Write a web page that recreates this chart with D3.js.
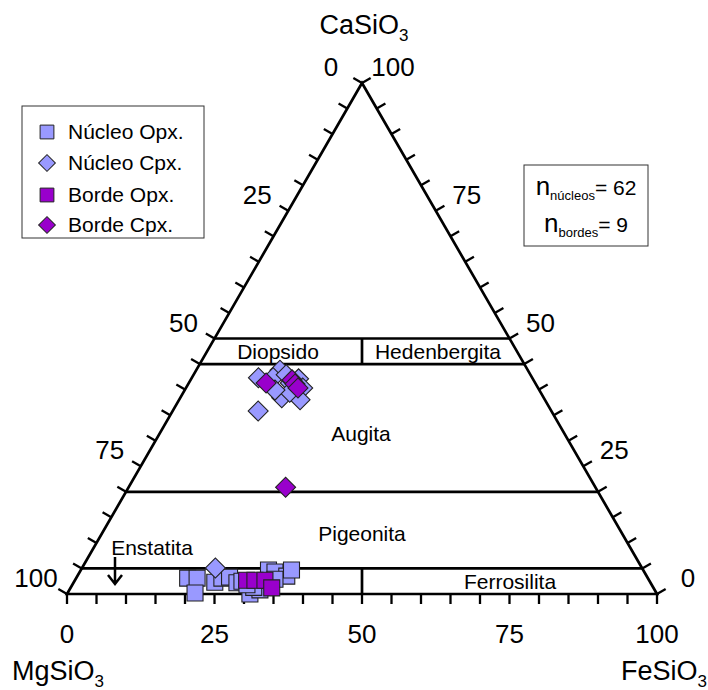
<!DOCTYPE html>
<html>
<head>
<meta charset="utf-8">
<script src="https://cdn.jsdelivr.net/npm/d3@7"></script>
<style>
  body { margin: 0; background: #fff; }
  text { font-family: "Liberation Sans", Arial, sans-serif; fill: #000; }
</style>
</head>
<body>
<script>
// composition [Wo (CaSiO3), Fs (FeSiO3)] in %, En = 100 - Wo - Fs
const nucleoOpx = [
    [3.1, 18.9], [3.1, 20.5], [0.2, 21.6], [2.3, 23.9], [3.1, 24.7],
    [3.3, 25.9], [2.2, 27.7], [2.5, 28.4], [0.0, 31.0], [0.8, 32.3],
    [1.3, 31.0], [4.7, 31.8], [4.3, 33.1], [3.5, 35.5], [4.7, 35.7],
    [2.9, 33.8], [1.8, 29.6]
];
const nucleoCpx = [
    [5.1, 22.6],
    [42.3, 11.3], [43.8, 14.2], [42.3, 13.8], [41.3, 17.2], [42.1, 18.2],
    [40.3, 19.8], [38.4, 17.2], [38.0, 20.5], [39.5, 18.0], [35.8, 14.5],
    [39.9, 15.3], [42.9, 15.7]
];
const bordeOpx = [[2.7, 29.1], [2.7, 30.5], [2.7, 32.2], [1.2, 34.1]];
const bordeCpx = [[41.3, 13.1], [41.9, 17.2], [41.1, 18.1], [40.3, 19.0], [20.9, 26.6]];

const axisTicks = [0, 25, 50, 75, 100];
const nNucleos = 62;
const nBordes = 9;

const colorNucleo = "#9999ff";
const colorBorde = "#9900cc";

const width = 708, height = 690;
const svg = d3.select("body").append("svg")
    .attr("width", width)
    .attr("height", height);

// ternary scales: x from Fs + Wo/2, y from Wo
const x = d3.scaleLinear().domain([0, 100]).range([67, 657]);
const y = d3.scaleLinear().domain([0, 100]).range([594, 83]);
function px(wo, fs) { return x(fs + wo / 2); }
function py(wo) { return y(wo); }

const line = d3.line();

// field boundaries
const fields = [
    [[50, 0], [50, 50]],
    [[45, 0], [45, 55]],
    [[20, 0], [20, 80]],
    [[5, 0], [5, 95]],
    [[45, 27.5], [50, 25]],
    [[0, 50], [5, 47.5]]
];
svg.append("g").selectAll("path")
    .data(fields)
    .enter().append("path")
    .attr("d", d => line(d.map(p => [px(p[0], p[1]), py(p[0])])))
    .attr("fill", "none")
    .attr("stroke", "#000")
    .attr("stroke-width", 2.7);

// triangle
svg.append("path")
    .attr("d", line([[px(0, 0), py(0)], [px(100, 0), py(100)], [px(0, 100), py(0)]]) + "Z")
    .attr("fill", "none")
    .attr("stroke", "#000")
    .attr("stroke-width", 2.7)
    .attr("stroke-linejoin", "miter");

// ticks every 5 %
const tickLen = 10;
const steps = d3.range(0, 101, 5);
const ticks = svg.append("g").attr("stroke", "#000").attr("stroke-width", 2.3);
steps.forEach(v => {
    // bottom
    ticks.append("line")
        .attr("x1", px(0, v)).attr("y1", py(0))
        .attr("x2", px(0, v)).attr("y2", py(0) + tickLen);
    // left edge (Fs = 0)
    ticks.append("line")
        .attr("x1", px(v, 0)).attr("y1", py(v))
        .attr("x2", px(v, 0) - tickLen * 0.866).attr("y2", py(v) - tickLen * 0.5);
    // right edge (En = 0)
    ticks.append("line")
        .attr("x1", px(v, 100 - v)).attr("y1", py(v))
        .attr("x2", px(v, 100 - v) + tickLen * 0.866).attr("y2", py(v) - tickLen * 0.5);
});

// tick labels
const lab = svg.append("g").attr("font-size", "26px").attr("text-anchor", "middle");
axisTicks.forEach(v => {
    lab.append("text").attr("x", px(0, v)).attr("y", 643).text(v);
    lab.append("text").attr("x", px(100 - v, 0) - 31).attr("y", py(100 - v) - 7).text(v);
    lab.append("text").attr("x", px(v, 100 - v) + 31).attr("y", py(v) - 7).text(v);
});

// end members
function formula(sel, base, xx, yy, anchor) {
    const t = sel.append("text")
        .attr("x", xx).attr("y", yy)
        .attr("text-anchor", anchor)
        .attr("font-size", "27px");
    t.append("tspan").text(base);
    t.append("tspan").attr("font-size", "17px").attr("dy", 7).text("3");
}
formula(svg, "CaSiO", 364, 34, "middle");
formula(svg, "MgSiO", 12, 680, "start");
formula(svg, "FeSiO", 707, 680, "end");

// field names
const names = svg.append("g").attr("font-size", "21px").attr("text-anchor", "middle");
names.append("text").attr("x", 278).attr("y", 359).text("Diopsido");
names.append("text").attr("x", 438).attr("y", 359).text("Hedenbergita");
names.append("text").attr("x", 361).attr("y", 441).text("Augita");
names.append("text").attr("x", 362).attr("y", 541).text("Pigeonita");
names.append("text").attr("x", 510).attr("y", 589).text("Ferrosilita");
names.append("text").attr("x", 152).attr("y", 555).text("Enstatita");

// arrow to enstatite
svg.append("path")
    .attr("d", "M115,557 L115,584 M108,575 L115,584 L122,575")
    .attr("fill", "none")
    .attr("stroke", "#000")
    .attr("stroke-width", 2.5);

// data points
const square = d3.symbol().type(d3.symbolSquare).size(256);
const diamond = d3.symbol().type(d3.symbolSquare).size(200);

function drawSeries(data, shape, color, rotate) {
    svg.append("g").selectAll("path")
        .data(data)
        .enter().append("path")
        .attr("d", shape)
        .attr("transform", d => "translate(" + px(d[0], d[1]) + "," + py(d[0]) + ")" + (rotate ? " rotate(45)" : ""))
        .attr("fill", color)
        .attr("stroke", "#222")
        .attr("stroke-width", 1.1);
}
drawSeries(nucleoOpx, square, colorNucleo, false);
drawSeries(nucleoCpx, diamond, colorNucleo, true);
drawSeries(bordeOpx, square, colorBorde, false);
drawSeries(bordeCpx, diamond, colorBorde, true);

// legend
const legend = svg.append("g");
legend.append("rect")
    .attr("x", 22).attr("y", 106).attr("width", 182).attr("height", 132)
    .attr("fill", "#fff").attr("stroke", "#333").attr("stroke-width", 1);
const legendItems = [
    { label: "Núcleo Opx.", color: colorNucleo, shape: "square" },
    { label: "Núcleo Cpx.", color: colorNucleo, shape: "diamond" },
    { label: "Borde Opx.", color: colorBorde, shape: "square" },
    { label: "Borde Cpx.", color: colorBorde, shape: "diamond" }
];
const legendY = [132, 163, 195, 225];
legendItems.forEach((d, i) => {
    legend.append("path")
        .attr("d", d3.symbol().type(d3.symbolSquare).size(d.shape === "square" ? 190 : 140)())
        .attr("transform", "translate(47," + legendY[i] + ")" + (d.shape === "diamond" ? " rotate(45)" : ""))
        .attr("fill", d.color).attr("stroke", "#222").attr("stroke-width", 1);
    legend.append("text")
        .attr("x", 68).attr("y", legendY[i] + 7)
        .attr("font-size", "21px")
        .text(d.label);
});

// n box
const nbox = svg.append("g");
nbox.append("rect")
    .attr("x", 524).attr("y", 165).attr("width", 124).attr("height", 81)
    .attr("fill", "#fff").attr("stroke", "#333").attr("stroke-width", 1);
function nLine(sub, n, yy) {
    const t = nbox.append("text")
        .attr("x", 586).attr("y", yy)
        .attr("text-anchor", "middle")
        .attr("font-size", "21px");
    t.append("tspan").attr("font-size", "26px").text("n");
    t.append("tspan").attr("font-size", "13px").attr("dy", 5).text(sub);
    t.append("tspan").attr("dy", -5).text("= " + n);
}
nLine("núcleos", nNucleos, 195);
nLine("bordes", nBordes, 232);
</script>
</body>
</html>
